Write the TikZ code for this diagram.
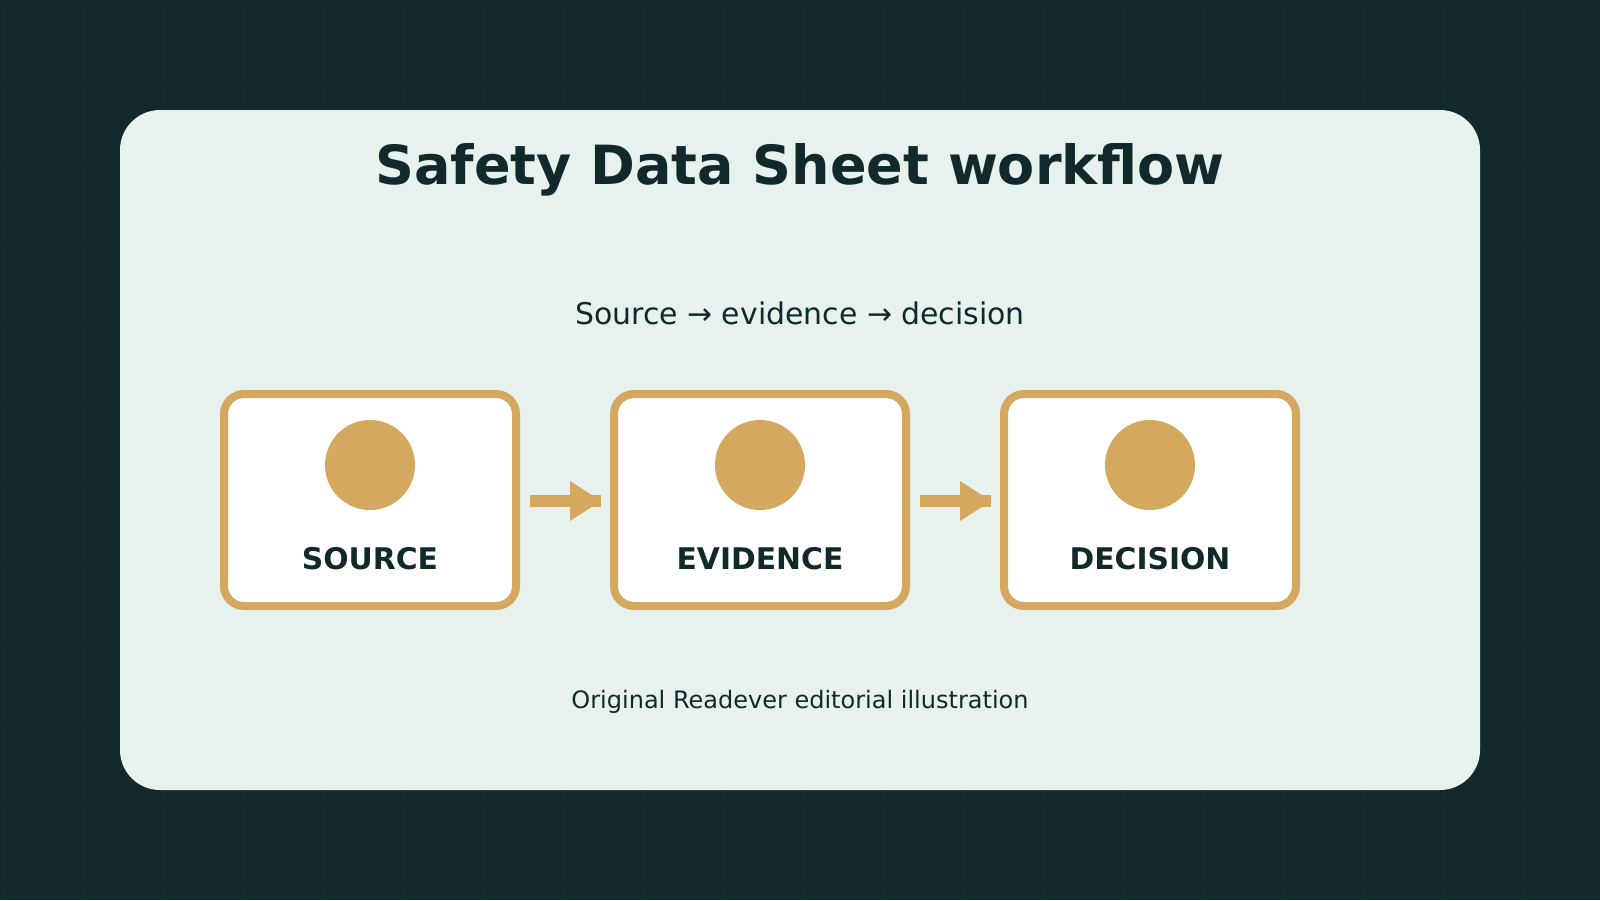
\documentclass[tikz,border=0pt]{standalone}
\usepackage{fontspec}
\setmainfont{DejaVu Sans}
\usetikzlibrary{calc}
\definecolor{bgc}{HTML}{122A2C}
\definecolor{gridc}{HTML}{0E2426}
\definecolor{panelc}{HTML}{E7F2EE}
\definecolor{goldc}{HTML}{D4A85F}
\definecolor{inkc}{HTML}{12292B}
\tikzset{
  stagebox/.style={draw=goldc, line width=8pt, fill=white, rounded corners=20pt,
    minimum width=292pt, minimum height=212pt, inner sep=0pt, outer sep=0pt},
  dot/.style={circle, fill=goldc, minimum size=90pt, inner sep=0pt},
  stagelabel/.style={anchor=base, text=inkc, font=\bfseries\fontsize{29.8}{34}\selectfont},
  shaft/.style={draw=goldc, line width=12pt, line cap=butt},
}
\begin{document}
\begin{tikzpicture}[x=1pt,y=-1pt]
\useasboundingbox (0,0) rectangle (1600,900);
\fill[bgc] (0,0) rectangle (1600,900);
\foreach \i in {0,80,...,1600} {\draw[gridc, line width=1pt] (\i,0) -- (\i,900);}
\foreach \j in {0,80,...,880} {\draw[gridc, line width=1pt] (0,\j) -- (1600,\j);}
\fill[panelc, rounded corners=40pt] (120,110) rectangle (1480,790);
\node[anchor=base, text=inkc, font=\bfseries\fontsize{54}{60}\selectfont] (title) at (800,184) {Safety Data Sheet workflow};
\node[anchor=base, text=inkc, font=\fontsize{29.9}{34}\selectfont] (sub) at (800,324) {Source → evidence → decision};
\node[stagebox] (b1) at (370,500) {};
\node[stagebox] (b2) at (760,500) {};
\node[stagebox] (b3) at (1150,500) {};
\node[dot] (d1) at (370,465) {};
\node[dot] (d2) at (760,465) {};
\node[dot] (d3) at (1150,465) {};
\node[stagelabel] (l1) at (370,569) {SOURCE};
\node[stagelabel] (l2) at (760,569) {EVIDENCE};
\node[stagelabel] (l3) at (1150,569) {DECISION};
\coordinate (s1) at ($(b1.east)+(14,1)$);
\coordinate (e1) at ($(b2.west)+(-13,1)$);
\coordinate (s2) at ($(b2.east)+(14,1)$);
\coordinate (e2) at ($(b3.west)+(-13,1)$);
\draw[shaft] (s1) -- (e1);
\fill[goldc] ($(s1)+(40,-20)$) -- ($(s1)+(40,20)$) -- ($(s1)+(71,0)$) -- cycle;
\draw[shaft] (s2) -- (e2);
\fill[goldc] ($(s2)+(40,-20)$) -- ($(s2)+(40,20)$) -- ($(s2)+(71,0)$) -- cycle;
\node[anchor=base, text=inkc, font=\fontsize{24}{28}\selectfont] (foot) at (800,708) {Original Readever editorial illustration};
\end{tikzpicture}
\end{document}
